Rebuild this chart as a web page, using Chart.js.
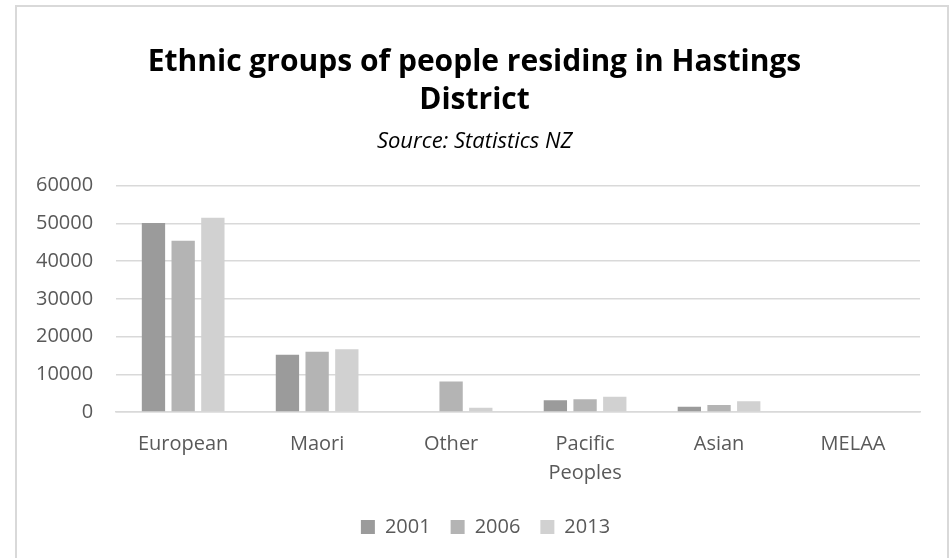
<!DOCTYPE html>
<html>
<head>
<meta charset="utf-8">
<title>Ethnic groups - Hastings District</title>
<script src="https://cdn.jsdelivr.net/npm/chart.js@4.4.1/dist/chart.umd.min.js"></script>
<style>
    html, body { margin: 0; padding: 0; background: #ffffff; }
    #contenedor { position: relative; width: 950px; height: 558px; overflow: hidden; }
    #grafico { position: absolute; left: 0; top: 0; }
    /* marco gris alrededor del gráfico */
    #marco {
        position: absolute; left: 15px; top: 5px;
        width: 930px; height: 600px;
        border: 2px solid #d9d9d9;
        pointer-events: none;
    }
</style>
</head>
<body>
<div id="contenedor">
    <canvas id="grafico" width="950" height="558"></canvas>
    <div id="marco"></div>
</div>
<script>
// Datos por grupo étnico (censos 2001, 2006, 2013)
const grupos = ['European', 'Maori', 'Other', ['Pacific', 'Peoples'], 'Asian', 'MELAA'];
const anios = ['2001', '2006', '2013'];
const valores2001 = [50100, 15200, null, 3100, 1420, null];
const valores2006 = [45400, 16000, 8100, 3360, 1860, 180];
const valores2013 = [51500, 16600, 1150, 4070, 2830, 220];
const colores = ['#9b9b9b', '#b4b4b4', '#d1d1d1'];
const ticksY = [0, 10000, 20000, 30000, 40000, 50000, 60000];

const colorTexto = '#595959';
const fuente = "'Open Sans', sans-serif";

const series = [valores2001, valores2006, valores2013];

// Corre títulos y leyenda a la derecha (centrados sobre el marco, no sobre el canvas)
const desplazarCajas = {
    id: 'desplazarCajas',
    afterLayout(chart) {
        chart.boxes.forEach(caja => {
            let dx = 0;
            if (caja === chart.legend) dx = 19;
            else if (caja.position === 'top') dx = 8;
            caja.left += dx;
            caja.right += dx;
        });
    }
};

const ctx = document.getElementById('grafico').getContext('2d');
const grafico = new Chart(ctx, {
    type: 'bar',
    data: {
        labels: grupos,
        datasets: series.map((datos, i) => ({
            label: anios[i],
            data: datos,
            backgroundColor: colores[i],
            borderWidth: 0,
            categoryPercentage: 0.665,
            barPercentage: 0.785
        }))
    },
    options: {
        responsive: false,
        animation: false,
        layout: {
            padding: { left: 13, right: 30, top: 0, bottom: 11 }
        },
        plugins: {
            title: {
                display: true,
                text: ['Ethnic groups of people residing in Hastings', 'District'],
                color: '#000000',
                font: { family: fuente, size: 30, weight: 'bold', lineHeight: 1.27 },
                padding: { top: 43, bottom: 0 }
            },
            subtitle: {
                display: true,
                text: 'Source: Statistics NZ',
                color: '#000000',
                font: { family: fuente, size: 22, style: 'italic', lineHeight: 1.2 },
                padding: { top: 9, bottom: 31 }
            },
            legend: {
                position: 'bottom',
                labels: {
                    color: colorTexto,
                    font: { family: fuente, size: 20 },
                    boxWidth: 14,
                    boxHeight: 14,
                    padding: 20
                }
            },
            tooltip: { enabled: false }
        },
        scales: {
            x: {
                grid: { display: false, drawTicks: false },
                border: { display: true, color: '#d9d9d9', width: 1.5 },
                ticks: {
                    color: colorTexto,
                    font: { family: fuente, size: 20, lineHeight: 1.45 },
                    padding: 18,
                    maxRotation: 0,
                    autoSkip: false
                },
                // ajusta el espacio entre etiquetas y leyenda
                afterFit: (escala) => { escala.height -= 9; }
            },
            y: {
                min: ticksY[0],
                max: ticksY[ticksY.length - 1],
                afterBuildTicks: (escala) => {
                    escala.ticks = ticksY.map(v => ({ value: v }));
                },
                grid: { color: '#d9d9d9', lineWidth: 1.5, drawTicks: false },
                border: { display: false },
                ticks: {
                    color: colorTexto,
                    font: { family: fuente, size: 20 },
                    padding: 23,
                    callback: (valor) => String(valor)
                }
            }
        }
    },
    plugins: [desplazarCajas]
});
</script>
</body>
</html>
